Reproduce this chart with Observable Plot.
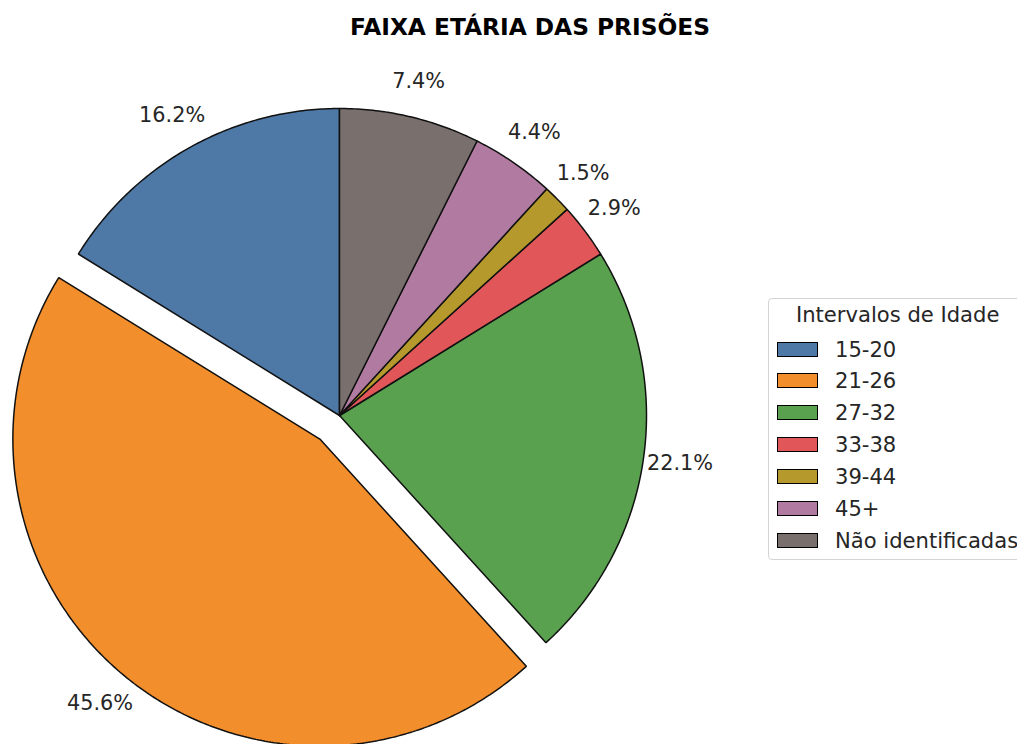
<!DOCTYPE html>
<html>
<head>
<meta charset="utf-8">
<script src="https://cdn.jsdelivr.net/npm/d3@7"></script>
<script src="https://cdn.jsdelivr.net/npm/@observablehq/plot@0.6"></script>
<style>
  html, body { margin: 0; padding: 0; background: #fff; overflow: hidden; }
  body { width: 1017px; height: 744px; position: relative; font-family: "DejaVu Sans", sans-serif; }
  #title { position: absolute; left: 0; width: 1060px; top: 13px; text-align: center; font-weight: bold; font-size: 23.3px; color: #000; }
  #chart { position: absolute; left: 0; top: 0; }
  #legend { position: absolute; left: 768px; top: 298px; width: 300px; height: 262px; border: 1px solid #d4d4d4; border-radius: 4px; background: rgba(255,255,255,0.85); box-sizing: border-box; }
  #legend .lt { position: absolute; left: 27px; top: 3px; font-size: 21.1px; color: #262626; white-space: nowrap; }
  #legend .row { position: absolute; left: 8px; height: 30px; display: flex; align-items: center; font-size: 21.1px; color: #262626; white-space: nowrap; }
  #legend .sw { width: 39px; height: 13px; border: 1.6px solid #000; margin-right: 17px; }
</style>
</head>
<body>
<div id="title">FAIXA ETÁRIA DAS PRISÕES</div>
<div id="chart"></div>
<div id="legend"></div>
<script>
// Data
const categories = ["15-20", "21-26", "27-32", "33-38", "39-44", "45+", "Não identificadas"];
const percentages = [16.2, 45.6, 22.1, 2.9, 1.5, 4.4, 7.4];
const explode = [0, 0.1, 0, 0, 0, 0, 0];
const colors = ["#4e79a7", "#f28e2b", "#59a14f", "#e15759", "#b6992d", "#b07aa1", "#79706e"];
const legendTitle = "Intervalos de Idade";

// Build slice geometry (matplotlib-style: start at 90°, counterclockwise)
const total = d3.sum(percentages);
let cum = 0;
const slices = categories.map((c, i) => {
  const a0 = Math.PI / 2 + (cum / total) * 2 * Math.PI;
  cum += percentages[i];
  const a1 = Math.PI / 2 + (cum / total) * 2 * Math.PI;
  const mid = (a0 + a1) / 2;
  const cx = explode[i] * Math.cos(mid), cy = explode[i] * Math.sin(mid);
  const n = Math.max(4, Math.ceil((a1 - a0) / 0.01));
  const pts = [{x: cx, y: cy, k: c}];
  for (let j = 0; j <= n; j++) {
    const a = a0 + (a1 - a0) * j / n;
    pts.push({x: cx + Math.cos(a), y: cy + Math.sin(a), k: c});
  }
  pts.push({x: cx, y: cy, k: c});
  return {cat: c, color: colors[i], pts,
          lx: cx + 1.12 * Math.cos(mid), ly: cy + 1.12 * Math.sin(mid),
          text: percentages[i].toFixed(1) + "%"};
});

const R = 307, CX = 339, CY = 415, W = 1017, H = 744;
const chart = Plot.plot({
  width: W, height: H,
  margin: 0,
  x: {domain: [-CX / R, (W - CX) / R], range: [0, W], axis: null},
  y: {domain: [-(H - CY) / R, CY / R], range: [H, 0], axis: null},
  style: {fontFamily: "DejaVu Sans, sans-serif", background: "transparent"},
  marks: [
    ...slices.map(s => Plot.line(s.pts, {x: "x", y: "y", fill: s.color, stroke: "#111", strokeWidth: 1.5, strokeLinejoin: "miter", curve: "linear"})),
    Plot.text(slices, {x: "lx", y: "ly", text: "text", fontSize: 20.8, fill: "#262626"})
  ]
});
document.getElementById("chart").appendChild(chart);

// Legend
const lg = document.getElementById("legend");
const t = document.createElement("div");
t.className = "lt"; t.textContent = legendTitle; lg.appendChild(t);
categories.forEach((c, i) => {
  const row = document.createElement("div");
  row.className = "row";
  row.style.top = (35 + i * 31.9) + "px";
  const sw = document.createElement("div");
  sw.className = "sw"; sw.style.background = colors[i];
  const tx = document.createElement("span"); tx.textContent = c;
  row.appendChild(sw); row.appendChild(tx);
  lg.appendChild(row);
});
</script>
</body>
</html>
